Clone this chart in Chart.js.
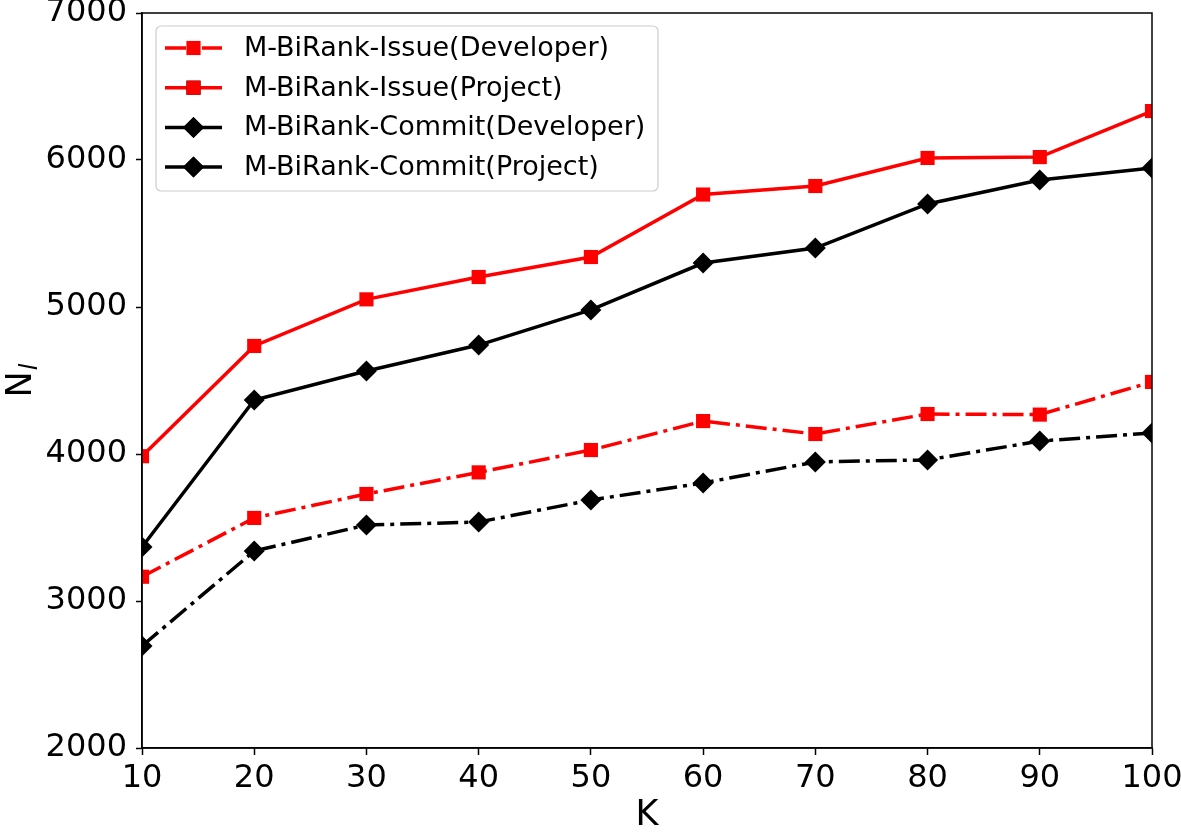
<!DOCTYPE html>
<html lang="en">
<head>
    <meta charset="UTF-8">
    <title>M-BiRank N_l vs K</title>
    <script src="https://cdn.jsdelivr.net/npm/chart.js"></script>
    <style>
        body {
            margin: 0;
            background-color: white;
        }
    </style>
</head>
<body>
<canvas id="chart" width="1181" height="833"></canvas>

<script>
    const kValues = [10, 20, 30, 40, 50, 60, 70, 80, 90, 100];
    const yTicks = [2000, 3000, 4000, 5000, 6000, 7000];

    const issueDeveloper = [3165, 3565, 3728, 3875, 4027, 4224, 4136, 4272, 4268, 4490];
    const issueProject = [3985, 4735, 5052, 5204, 5340, 5765, 5823, 6014, 6020, 6333];
    const commitDeveloper = [2694, 3340, 3517, 3537, 3687, 3803, 3946, 3960, 4088, 4143];
    const commitProject = [3367, 4367, 4565, 4741, 4980, 5299, 5401, 5701, 5864, 5946];

    const labels = [
        'M-BiRank-Issue(Developer)',
        'M-BiRank-Issue(Project)',
        'M-BiRank-Commit(Developer)',
        'M-BiRank-Commit(Project)'
    ];

    const dashDot = [21, 6, 4, 6];

    function toPoints(values) {
        return kValues.map((k, i) => ({ x: k, y: values[i] }));
    }

    function series(label, values, color, dash, marker) {
        return {
            label: label,
            data: toPoints(values),
            borderColor: color,
            backgroundColor: color,
            borderWidth: 3.5,
            borderDash: dash,
            pointStyle: marker,
            pointRadius: marker === 'rect' ? 10 : 10.5,
            pointBorderWidth: 0,
            fill: false,
            tension: 0
        };
    }

    const datasets = [
        series(labels[0], issueDeveloper, '#ff0000', dashDot, 'rect'),
        series(labels[1], issueProject, '#ff0000', [], 'rect'),
        series(labels[2], commitDeveloper, '#000000', dashDot, 'rectRot'),
        series(labels[3], commitProject, '#000000', [], 'rectRot')
    ];
    // draw in matplotlib order: later series on top
    datasets.forEach((d, i) => { d.order = datasets.length - i; });

    // box round the plot area
    const frame = {
        id: 'frame',
        afterDatasetsDraw(chart) {
            const { ctx, chartArea: a } = chart;
            ctx.save();
            ctx.strokeStyle = '#000';
            ctx.lineWidth = 1.5;
            ctx.strokeRect(a.left, a.top, a.right - a.left, a.bottom - a.top);
            ctx.restore();
        }
    };

    // y title N with italic subscript l
    const yTitle = {
        id: 'yTitle',
        afterDraw(chart) {
            const { ctx, chartArea: a } = chart;
            ctx.save();
            ctx.fillStyle = '#000';
            ctx.textBaseline = 'alphabetic';
            ctx.font = '35px "DejaVu Sans"';
            const wN = ctx.measureText('N').width;
            ctx.font = 'italic 24px "DejaVu Sans"';
            const wl = ctx.measureText('l').width;
            const total = wN + 1 + wl;
            const mid = (a.top + a.bottom) / 2;
            ctx.translate(31, mid + total / 2);
            ctx.rotate(-Math.PI / 2);
            ctx.font = '35px "DejaVu Sans"';
            ctx.fillText('N', 0, 0);
            ctx.font = 'italic 24px "DejaVu Sans"';
            ctx.fillText('l', wN + 1, 6);
            ctx.restore();
        }
    };

    // matplotlib style legend, upper left
    const legendBox = {
        id: 'legendBox',
        afterDraw(chart) {
            const { ctx, chartArea: a } = chart;
            const x0 = a.left + 14, y0 = a.top + 13;
            const w = 502, h = 165, rowH = 39.7;
            ctx.save();
            ctx.beginPath();
            ctx.roundRect(x0, y0, w, h, 5);
            ctx.fillStyle = 'rgba(255,255,255,0.8)';
            ctx.fill();
            ctx.strokeStyle = '#cccccc';
            ctx.lineWidth = 1.2;
            ctx.stroke();
            chart.data.datasets.forEach((d, i) => {
                const cy = y0 + 22 + i * rowH;
                const lx = x0 + 9;
                ctx.beginPath();
                ctx.setLineDash(d.borderDash);
                ctx.strokeStyle = d.borderColor;
                ctx.lineWidth = d.borderWidth;
                ctx.moveTo(lx, cy);
                ctx.lineTo(lx + 57, cy);
                ctx.stroke();
                ctx.setLineDash([]);
                Chart.helpers.drawPoint(ctx, {
                    pointStyle: d.pointStyle,
                    radius: d.pointRadius,
                    borderWidth: 0,
                    rotation: 0
                }, lx + 28.5, cy);
                ctx.fillStyle = d.borderColor;
                ctx.fill();
                ctx.fillStyle = '#000';
                ctx.font = '27px "DejaVu Sans"';
                ctx.textBaseline = 'middle';
                ctx.fillText(d.label, x0 + 88, cy + 1);
            });
            ctx.restore();
        }
    };

    new Chart(document.getElementById('chart').getContext('2d'), {
        type: 'line',
        data: { datasets: datasets },
        plugins: [frame, yTitle, legendBox],
        options: {
            responsive: false,
            animation: false,
            layout: { padding: { top: 13, right: 29, left: 0, bottom: 0 } },
            plugins: {
                legend: { display: false },
                tooltip: { enabled: false }
            },
            scales: {
                x: {
                    type: 'linear',
                    min: 10,
                    max: 100,
                    ticks: {
                        stepSize: 10,
                        color: '#000',
                        padding: 4,
                        font: { family: 'DejaVu Sans', size: 32 },
                        maxRotation: 0
                    },
                    grid: {
                        drawOnChartArea: false,
                        color: '#000',
                        tickLength: 7,
                        tickWidth: 1.5
                    },
                    border: { color: '#000', width: 1.5 },
                    title: {
                        display: true,
                        text: 'K',
                        color: '#000',
                        font: { family: 'DejaVu Sans', size: 35, lineHeight: 1 },
                        padding: 0
                    },
                    afterFit(scale) {
                        scale.height = 85;
                        scale.paddingLeft = 0;
                        scale.paddingRight = 0;
                    }
                },
                y: {
                    min: 2000,
                    max: 7000,
                    afterBuildTicks(scale) {
                        scale.ticks = yTicks.map(v => ({ value: v }));
                    },
                    ticks: {
                        color: '#000',
                        padding: 9,
                        font: { family: 'DejaVu Sans', size: 32 },
                        callback: v => String(v)
                    },
                    grid: {
                        drawOnChartArea: false,
                        color: '#000',
                        tickLength: 6,
                        tickWidth: 1.5
                    },
                    border: { color: '#000', width: 1.5 },
                    afterFit(scale) {
                        scale.width = 142;
                        scale.paddingTop = 0;
                        scale.paddingBottom = 0;
                    }
                }
            }
        }
    });
</script>
</body>
</html>
